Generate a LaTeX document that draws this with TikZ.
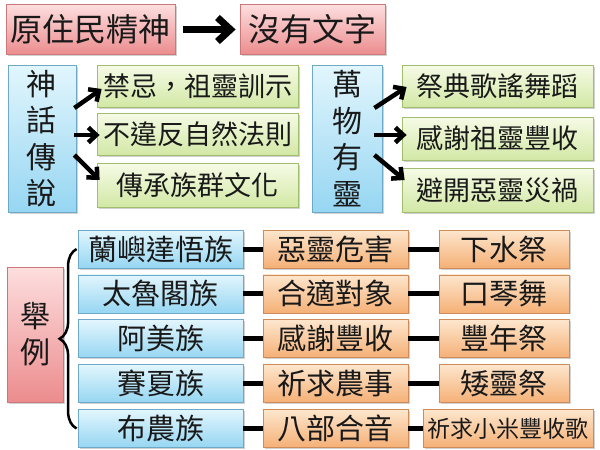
\documentclass[tikz,border=0pt]{standalone}
\usepackage{fontspec}
\setmainfont{Noto Sans CJK TC}
\usetikzlibrary{arrows.meta,shadows,decorations.pathreplacing}
\definecolor{pinkT}{RGB}{253,222,222}
\definecolor{pinkB}{RGB}{236,140,142}
\definecolor{pinkD}{RGB}{205,120,120}
\definecolor{blueT}{RGB}{226,246,253}
\definecolor{blueB}{RGB}{150,214,242}
\definecolor{blueD}{RGB}{110,170,200}
\definecolor{greenT}{RGB}{246,251,230}
\definecolor{greenB}{RGB}{210,232,165}
\definecolor{greenD}{RGB}{160,190,110}
\definecolor{orT}{RGB}{253,230,205}
\definecolor{orB}{RGB}{245,176,118}
\definecolor{orD}{RGB}{205,140,90}
\definecolor{txt}{RGB}{25,25,25}
\begin{document}
\begin{tikzpicture}[x=1pt,y=-1pt,
  box/.style={rectangle,inner sep=0pt,line width=0.8pt,text=txt,
    drop shadow={shadow xshift=1.5pt,shadow yshift=-1.5pt,opacity=0.35}},
  pinkbox/.style={box,draw=pinkD,top color=pinkT,bottom color=pinkB},
  bluebox/.style={box,draw=blueD,top color=blueT,bottom color=blueB},
  greenbox/.style={box,draw=greenD,top color=greenT,bottom color=greenB},
  orbox/.style={box,draw=orD,top color=orT,bottom color=orB},
  bigarr/.style={line width=7pt,-{Straight Barb[length=13pt,width=24pt]}},
  arr/.style={line width=4.5pt,-{Straight Barb[length=8pt,width=15pt]}},
  link/.style={line width=5pt},
  f32/.style={font=\fontsize{32}{38}\selectfont},
  f30/.style={font=\fontsize{29}{36}\selectfont},
  f27/.style={font=\fontsize{27}{32}\selectfont},
  f23/.style={font=\fontsize{23}{28}\selectfont}]
\useasboundingbox[fill=white] (0,0) rectangle (600,450);

% top row
\node[pinkbox,f32,minimum width=169pt,minimum height=50pt] (t1) at (90.5,29.5) {原住民精神};
\node[pinkbox,f32,minimum width=145pt,minimum height=50pt] (t2) at (312.5,29.5) {沒有文字};
\draw[bigarr,shorten <=8pt,shorten >=4pt] (t1.east) -- (t2.west);

% myths
\node[bluebox,align=center,font=\fontsize{30}{36.5}\selectfont,minimum width=68pt,minimum height=147pt] (myth) at (42,138.5) {神\\話\\傳\\說};
\node[greenbox,f27,minimum width=201pt,minimum height=42pt] (g1) at (197.5,86) {禁忌，祖靈訓示};
\node[greenbox,f27,minimum width=201pt,minimum height=42pt] (g2) at (197.5,134) {不違反自然法則};
\node[greenbox,f27,minimum width=201pt,minimum height=44pt] (g3) at (197.5,185) {傳承族群文化};
\draw[arr] ([xshift=-2pt,yshift=30.5pt]myth.east) -- ([xshift=5pt,yshift=-3pt]g1.west);
\draw[arr] ([xshift=-2pt,yshift=3.5pt]myth.east) -- ([xshift=3pt,yshift=-1pt]g2.west);
\draw[arr] ([xshift=-2pt,yshift=-16.5pt]myth.east) -- ([xshift=3pt,yshift=5pt]g3.west);

% spirits
\node[bluebox,align=center,font=\fontsize{30}{36.5}\selectfont,minimum width=70pt,minimum height=147pt] (spirit) at (347,138.5) {萬\\物\\有\\靈};
\node[greenbox,f27,minimum width=191pt,minimum height=42pt] (h1) at (497.5,86) {祭典歌謠舞蹈};
\node[greenbox,f27,minimum width=191pt,minimum height=43pt] (h2) at (497.5,138.5) {感謝祖靈豐收};
\node[greenbox,f27,minimum width=191pt,minimum height=44pt] (h3) at (497.5,190) {避開惡靈災禍};
\draw[arr] ([xshift=-8pt,yshift=30.5pt]spirit.east) -- ([xshift=5pt,yshift=-1pt]h1.west);
\draw[arr] ([xshift=-8pt,yshift=3.5pt]spirit.east) -- ([xshift=5pt,yshift=3.5pt]h2.west);
\draw[arr] ([xshift=-8pt,yshift=-16.5pt]spirit.east) -- ([xshift=3pt,yshift=10pt]h3.west);

% examples
\node[pinkbox,align=center,font=\fontsize{30}{36}\selectfont,minimum width=56pt,minimum height=135pt] (ex) at (35,334.5) {舉\\例};

\foreach \i/\y/\a/\b/\c in {1/249/蘭嶼達悟族/惡靈危害/下水祭,
                            2/293.9/太魯閣族/合適對象/口琴舞,
                            3/338.75/阿美族/感謝豐收/豐年祭,
                            4/383.6/賽夏族/祈求農事/矮靈祭}{
  \node[bluebox,f30,minimum width=165pt,minimum height=38pt] (b\i) at (160.5,\y) {\a};
  \node[orbox,f30,minimum width=145pt,minimum height=38pt] (m\i) at (335.5,\y) {\b};
  \node[orbox,f30,minimum width=130pt,minimum height=38pt] (r\i) at (504,\y) {\c};
  \draw[link] (b\i.east) -- (m\i.west);
  \draw[link] (m\i.east) -- (r\i.west);
}
\node[bluebox,f30,minimum width=165pt,minimum height=38pt] (b5) at (160.5,428.5) {布農族};
\node[orbox,f30,minimum width=145pt,minimum height=38pt] (m5) at (335.5,428.5) {八部合音};
\node[orbox,f23,minimum width=170pt,minimum height=38pt] (r5) at (508,428.5) {祈求小米豐收歌};
\draw[link] (b5.east) -- (m5.west);
\draw[link] (m5.east) -- (r5.west);

\draw[line width=2.5pt,decorate,decoration={brace,amplitude=17pt}]
  ([xshift=-1pt]b5.west) -- ([xshift=-1pt]b1.west);
\end{tikzpicture}
\end{document}
